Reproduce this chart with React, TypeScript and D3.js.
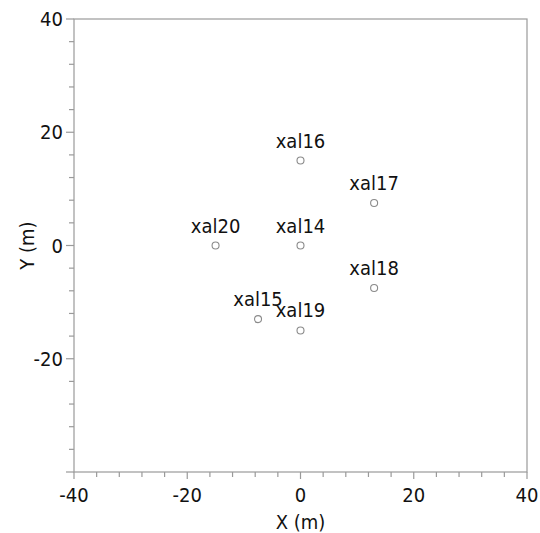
import React from "react";
import * as d3 from "d3";

const names = ["xal14", "xal15", "xal16", "xal17", "xal18", "xal19", "xal20"];
const xs = [0, -7.5, 0, 13, 13, 0, -15];
const ys = [0, -13, 15, 7.5, -7.5, -15, 0];
const xTickLabels = [-40, -20, 0, 20, 40];
const yTickLabels = [40, 20, 0, -20];

const W = 540, H = 533;
const L = 74, R = 527, T = 19, B = 472;
const FONT = "'DejaVu Sans Condensed', 'DejaVu Sans', sans-serif";
const AXIS = "#9a9a9a";
const FS = 20;

export default function App() {
  const x = d3.scaleLinear().domain([-40, 40]).range([L, R]);
  const y = d3.scaleLinear().domain([-40, 40]).range([B, T]);
  const minor = d3.range(-40, 40.001, 4);

  return (
    <svg width={W} height={H} style={{ position: "absolute", left: 0, top: 0, background: "#fff" }} fontFamily={FONT} fontStretch="condensed">
      <rect x={L} y={T} width={R - L} height={B - T} fill="none" stroke={AXIS} strokeWidth={1.2} />
      {minor.map((v) => {
        const major = Math.abs(v % 20) < 1e-9;
        return (
          <g key={"t" + v}>
            <line x1={x(v)} x2={x(v)} y1={B} y2={B + (major ? 7 : 5)} stroke={AXIS} strokeWidth={1.2} />
            <line x1={L} x2={L - (major ? 8 : 5)} y1={y(v)} y2={y(v)} stroke={AXIS} strokeWidth={1.2} />
          </g>
        );
      })}
      {xTickLabels.map((v) => (
        <text key={"xl" + v} x={x(v)} y={502} textAnchor="middle" fontSize={FS} fill="#111">
          {v}
        </text>
      ))}
      {yTickLabels.map((v) => (
        <text key={"yl" + v} x={L - 11} y={y(v) + 7} textAnchor="end" fontSize={FS} fill="#111">
          {v}
        </text>
      ))}
      <text x={(L + R) / 2} y={529} textAnchor="middle" fontSize={FS} fill="#111">X (m)</text>
      <text transform={`translate(34,${(T + B) / 2}) rotate(-90)`} textAnchor="middle" fontSize={FS} fill="#111">Y (m)</text>
      {names.map((n, i) => (
        <g key={n}>
          <circle cx={x(xs[i])} cy={y(ys[i])} r={3.5} fill="#fff" stroke="#8a8a8a" strokeWidth={1.1} />
          <text x={x(xs[i])} y={y(ys[i]) - 13} textAnchor="middle" fontSize={FS} fill="#111">
            {n}
          </text>
        </g>
      ))}
    </svg>
  );
}
